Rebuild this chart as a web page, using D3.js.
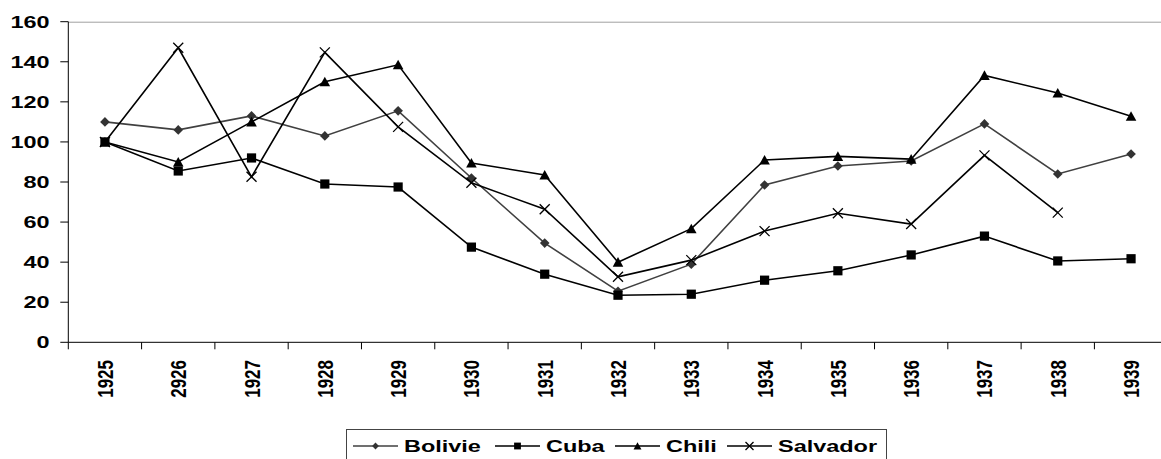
<!DOCTYPE html>
<html>
<head>
<meta charset="utf-8">
<script src="https://cdn.jsdelivr.net/npm/d3@7"></script>
<style>
  html, body { margin: 0; padding: 0; background: #fff; }
  svg { display: block; }
  text { font-family: "Liberation Sans", Arial, sans-serif; font-weight: bold; fill: #000; }
</style>
</head>
<body>
<svg id="chart" width="1161" height="459"></svg>
<script>
const categories = ["1925","2926","1927","1928","1929","1930","1931","1932","1933","1934","1935","1936","1937","1938","1939"];
const bolivie  = [110, 106, 113, 103, 115.5, 82, 49.5, 25.5, 39, 78.5, 88, 90.5, 109, 84, 94];
const cuba     = [100, 85.5, 92, 79, 77.5, 47.5, 34, 23.5, 24, 31, 35.7, 43.6, 53, 40.6, 41.7];
const chili    = [100, 90, 110, 130, 138.5, 89.5, 83.5, 40, 56.7, 91, 92.8, 91.4, 133.2, 124.4, 112.8];
const salvador = [100, 147, 82.6, 144.7, 107.5, 79.6, 66.4, 32.7, 41, 55.5, 64.4, 59, 93.3, 64.7, null];
const yTicks = [0, 20, 40, 60, 80, 100, 120, 140, 160];
const seriesNames = ["Bolivie", "Cuba", "Chili", "Salvador"];

const series = [
  {name: seriesNames[0], values: bolivie, marker: "diamond", color: "#404040", mcolor: "#333"},
  {name: seriesNames[1], values: cuba, marker: "square", color: "#000", mcolor: "#000"},
  {name: seriesNames[2], values: chili, marker: "triangle", color: "#000", mcolor: "#000"},
  {name: seriesNames[3], values: salvador, marker: "cross", color: "#000", mcolor: "#000"}
];

const svg = d3.select("#chart");
const pLeft = 68.3, pRight = 1167.7, pTop = 21.7, pBottom = 342.3;
const SX = 1.38;

const x = d3.scaleBand().domain(categories).range([pLeft, pRight]).paddingInner(0).paddingOuter(0);
const y = d3.scaleLinear().domain([0, 160]).range([pBottom, pTop]);

// top border
svg.append("line").attr("x1", pLeft).attr("x2", pRight).attr("y1", pTop + 0.5).attr("y2", pTop + 0.5)
  .attr("stroke", "#a0a0a0").attr("stroke-width", 1);

// y axis
const yAxis = svg.append("g");
yAxis.append("line").attr("x1", pLeft).attr("x2", pLeft).attr("y1", pTop).attr("y2", pBottom)
  .attr("stroke", "#000").attr("stroke-width", 1);
yTicks.forEach(t => {
  yAxis.append("line").attr("x1", pLeft - 8).attr("x2", pLeft).attr("y1", y(t)).attr("y2", y(t))
    .attr("stroke", "#000").attr("stroke-width", 1);
  yAxis.append("text")
    .attr("transform", `translate(49.5, ${y(t)}) scale(${SX},1)`)
    .attr("text-anchor", "end").attr("dy", "0.36em")
    .style("font-size", "17px").text(t);
});

// x axis
const xAxis = svg.append("g");
xAxis.append("line").attr("x1", pLeft).attr("x2", pRight).attr("y1", pBottom).attr("y2", pBottom)
  .attr("stroke", "#000").attr("stroke-width", 1);
categories.forEach((c, i) => {
  const bx = x(c);
  xAxis.append("line").attr("x1", bx).attr("x2", bx).attr("y1", pBottom).attr("y2", pBottom + 7)
    .attr("stroke", "#000").attr("stroke-width", 1);
  xAxis.append("text")
    .attr("transform", `translate(${bx + x.bandwidth() / 2}, 360) scale(1.3,1) rotate(-90)`)
    .attr("text-anchor", "end").attr("dy", "0.36em")
    .style("font-size", "17px").text(c);
});

function drawMarker(g, type, cx, cy, s, color) {
  if (type === "diamond") {
    g.append("path").attr("d", `M${cx},${cy - s} L${cx + s},${cy} L${cx},${cy + s} L${cx - s},${cy} Z`).attr("fill", color);
  } else if (type === "square") {
    g.append("rect").attr("x", cx - s).attr("y", cy - s).attr("width", 2 * s).attr("height", 2 * s).attr("fill", color);
  } else if (type === "triangle") {
    g.append("path").attr("d", `M${cx},${cy - s * 1.05} L${cx + s * 1.1},${cy + s * 0.95} L${cx - s * 1.1},${cy + s * 0.95} Z`).attr("fill", color);
  } else if (type === "cross") {
    g.append("path").attr("d", `M${cx - s},${cy - s} L${cx + s},${cy + s} M${cx - s},${cy + s} L${cx + s},${cy - s}`)
      .attr("stroke", color).attr("stroke-width", 1.3).attr("fill", "none");
  }
}

const markerSize = {diamond: 4.8, square: 4.6, triangle: 4.8, cross: 5};

const line = d3.line()
  .defined(d => d.v !== null)
  .x(d => x(d.c) + x.bandwidth() / 2)
  .y(d => y(d.v));

const plot = svg.append("g");
series.forEach(s => {
  const pts = categories.map((c, i) => ({c, v: s.values[i]}));
  plot.append("path").datum(pts).attr("d", line)
    .attr("fill", "none").attr("stroke", s.color).attr("stroke-width", 1.6);
});
series.forEach(s => {
  const g = plot.append("g");
  categories.forEach((c, i) => {
    const v = s.values[i];
    if (v === null) return;
    drawMarker(g, s.marker, x(c) + x.bandwidth() / 2, y(v), markerSize[s.marker], s.mcolor);
  });
});

// legend
const leg = svg.append("g");
leg.append("rect").attr("x", 346.5).attr("y", 429.5).attr("width", 540).attr("height", 40)
  .attr("fill", "#fff").attr("stroke", "#444").attr("stroke-width", 1);
const legX = [353, 495, 615, 727];
const legMs = {diamond: 3.4, square: 3.4, triangle: 3.6, cross: 4};
series.forEach((s, i) => {
  const lx = legX[i], ly = 446;
  leg.append("line").attr("x1", lx).attr("x2", lx + 45).attr("y1", ly).attr("y2", ly)
    .attr("stroke", s.color).attr("stroke-width", 1.6);
  drawMarker(leg, s.marker, lx + 22.5, ly, legMs[s.marker], s.mcolor);
  leg.append("text")
    .attr("transform", `translate(${lx + 51}, ${ly}) scale(${SX},1)`)
    .attr("dy", "0.36em").style("font-size", "17px").text(s.name);
});
</script>
</body>
</html>
